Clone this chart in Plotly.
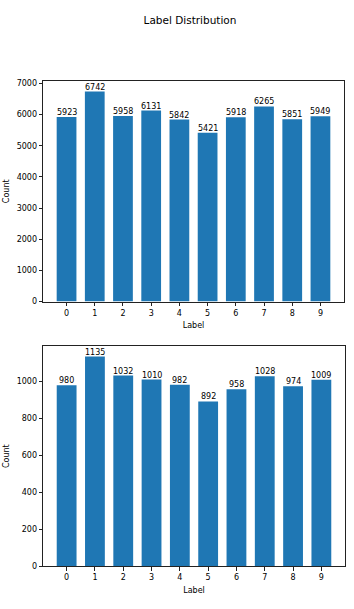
import plotly.graph_objects as go

labels = [0, 1, 2, 3, 4, 5, 6, 7, 8, 9]
train_counts = [5923, 6742, 5958, 6131, 5842, 5421, 5918, 6265, 5851, 5949]
test_counts = [980, 1135, 1032, 1010, 982, 892, 958, 1028, 974, 1009]
title = "Label Distribution"

W, H = 354, 609
font = dict(family="DejaVu Sans", size=8, color="#000000")
bar_color = "#1f77b4"

fig = go.Figure()
fig.add_trace(go.Bar(x=labels, y=train_counts, width=0.7, marker=dict(color=bar_color, line=dict(width=0)),
                     xaxis="x", yaxis="y"))
fig.add_trace(go.Bar(x=labels, y=test_counts, width=0.7, marker=dict(color=bar_color, line=dict(width=0)),
                     xaxis="x2", yaxis="y2"))

annotations = []
for xr, yr, vals in (("x", "y", train_counts), ("x2", "y2", test_counts)):
    for lab, v in zip(labels, vals):
        annotations.append(dict(x=lab, y=v, xref=xr, yref=yr, text=str(v), showarrow=False,
                                xanchor="center", yanchor="bottom", yshift=-1, font=font,
                                borderpad=0))

def px_dom_x(a, b):
    return [a / W, b / W]

def px_dom_y(top, bottom):
    return [1 - bottom / H, 1 - top / H]

axis_common = dict(showline=True, linecolor="#222222", linewidth=0.8, mirror=True, ticks="outside",
                   ticklen=3.5, tickwidth=0.8, tickcolor="#222222", showgrid=False, zeroline=False,
                   tickfont=font)

fig.update_layout(
    width=W, height=H, margin=dict(l=0, r=0, t=0, b=0),
    paper_bgcolor="white", plot_bgcolor="white", showlegend=False, font=font,
    annotations=annotations,
    title=dict(text=title, x=190 / W, xanchor="center", y=1 - 20 / H, yanchor="middle",
               font=dict(family="DejaVu Sans", size=10.5, color="#000000")),
    xaxis=dict(domain=px_dom_x(43, 344), anchor="y", range=[-0.835, 9.835], tickmode="array",
               tickvals=labels, ticktext=[str(l) for l in labels],
               title=dict(text="Label", font=font, standoff=5), **axis_common),
    yaxis=dict(domain=px_dom_y(80, 303), anchor="x", range=[0, max(train_counts) * 1.05],
               tickmode="array", tickvals=list(range(0, 7001, 1000)),
               title=dict(text="Count", font=font, standoff=5), **axis_common),
    xaxis2=dict(domain=px_dom_x(43, 345), anchor="y2", range=[-0.835, 9.835], tickmode="array",
                tickvals=labels, ticktext=[str(l) for l in labels],
                title=dict(text="Label", font=font, standoff=5), **axis_common),
    yaxis2=dict(domain=px_dom_y(348, 571), anchor="x2", range=[0, max(test_counts) * 1.05],
                tickmode="array", tickvals=list(range(0, 1001, 200)),
                title=dict(text="Count", font=font, standoff=5), **axis_common),
)

fig.write_html("out.html")
